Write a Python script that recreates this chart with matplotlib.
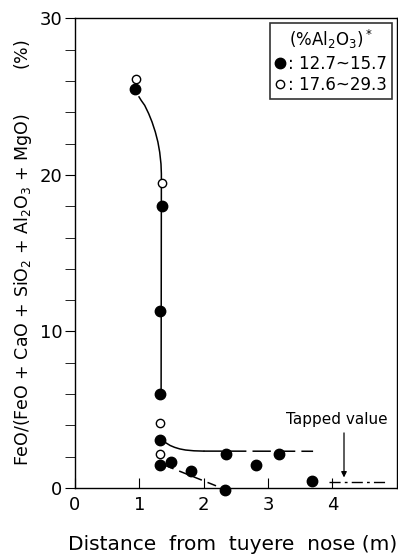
import numpy as np
import matplotlib.pyplot as plt
from matplotlib.lines import Line2D

# data
# filled circles: %Al2O3 12.7~15.7
x_fill = [0.93, 1.35, 1.33, 1.33, 1.33, 1.33, 1.50, 1.80, 2.33, 2.34, 2.82, 3.17, 3.69]
y_fill = [25.5, 18.0, 11.3, 6.0, 3.1, 1.5, 1.65, 1.1, -0.1, 2.2, 1.5, 2.2, 0.45]
# open circles: %Al2O3 17.6~29.3
x_open = [0.95, 1.35, 1.33, 1.33]
y_open = [26.1, 19.5, 4.15, 2.2]

# hand-drawn guide curves
curve1_x = [0.997, 1.03, 1.085, 1.147, 1.199, 1.25, 1.29, 1.318, 1.338, 1.344, 1.34]
curve1_y = [24.98, 24.76, 24.44, 23.91, 23.38, 22.74, 22.1, 21.45, 20.7, 20.06, 6.3]
curve2_x = [1.41, 1.48, 1.55, 1.63, 1.72, 1.85, 2.0]
curve2_y = [2.9, 2.72, 2.6, 2.5, 2.43, 2.38, 2.36]
curve2b_x = [2.0, 3.7]
curve2b_y = [2.36, 2.35]
curve3_x = [1.40, 2.25]
curve3_y = [1.45, 0.05]
tapped_x = [3.95, 4.85]
tapped_y = [0.4, 0.4]

plt.rcParams['font.family'] = ['DejaVu Sans']

fig = plt.figure(figsize=(3.98, 5.54), dpi=100)
ax = fig.add_axes([0.188, 0.119, 0.809, 0.848])

ax.plot(curve1_x, curve1_y, color='black', lw=1.1, zorder=1)
ax.plot(curve2_x, curve2_y, color='black', lw=1.1, zorder=1)
ax.plot(curve2b_x, curve2b_y, color='black', lw=1.1, dashes=(12, 4), zorder=1)
ax.plot(curve3_x, curve3_y, color='black', lw=1.1, dashes=(6, 4), zorder=1)
ax.plot(tapped_x, tapped_y, color='black', lw=1.0, dashes=(8, 3, 2, 3), zorder=1)

ax.plot(x_fill, y_fill, 'o', color='black', ms=7.5, zorder=3, clip_on=False)
ax.plot(x_open, y_open, 'o', mfc='white', mec='black', mew=1.0, ms=6, zorder=3)

ax.annotate('', xy=(4.18, 0.5), xytext=(4.18, 3.7),
            arrowprops=dict(arrowstyle='-|>', color='black', lw=0.9, mutation_scale=8))
ax.text(4.07, 4.35, 'Tapped value', ha='center', va='center', fontsize=11)

ax.set_xlim(0, 5)
ax.set_ylim(0, 30)
ax.set_xticks([0, 1, 2, 3, 4])
ax.set_yticks(np.arange(0, 31, 2), minor=True)
ax.set_yticks([0, 10, 20, 30])
ax.tick_params(axis='x', direction='in', length=7, labelsize=13, pad=6)
ax.tick_params(axis='y', direction='out', length=7, labelsize=13, pad=2)
ax.tick_params(axis='y', which='minor', direction='out', length=7)
for s in ax.spines.values():
    s.set_linewidth(1.0)

ax.set_ylabel('FeO/(FeO + CaO + SiO$_2$ + Al$_2$O$_3$ + MgO)        (%)',
              fontsize=12.5, labelpad=4)
ax.set_xlabel('Distance  from  tuyere  nose (m)', fontsize=14.5, labelpad=13)
ax.xaxis.set_label_coords(0.49, -0.1)

handles = [Line2D([], [], ls='', marker='o', color='black', ms=7.5),
           Line2D([], [], ls='', marker='o', mfc='white', mec='black', ms=6)]
leg = ax.legend(handles, [': 12.7~15.7', ': 17.6~29.3'],
                title='(%Al$_2$O$_3$)$^*$', loc='upper right', fontsize=12,
                title_fontsize=12, frameon=True, fancybox=False, edgecolor='black',
                handlelength=0.6, handletextpad=0.2, borderpad=0.3,
                labelspacing=0.2, borderaxespad=0.3)
leg.get_frame().set_linewidth(1.2)

fig.savefig('out.png', dpi=100)
